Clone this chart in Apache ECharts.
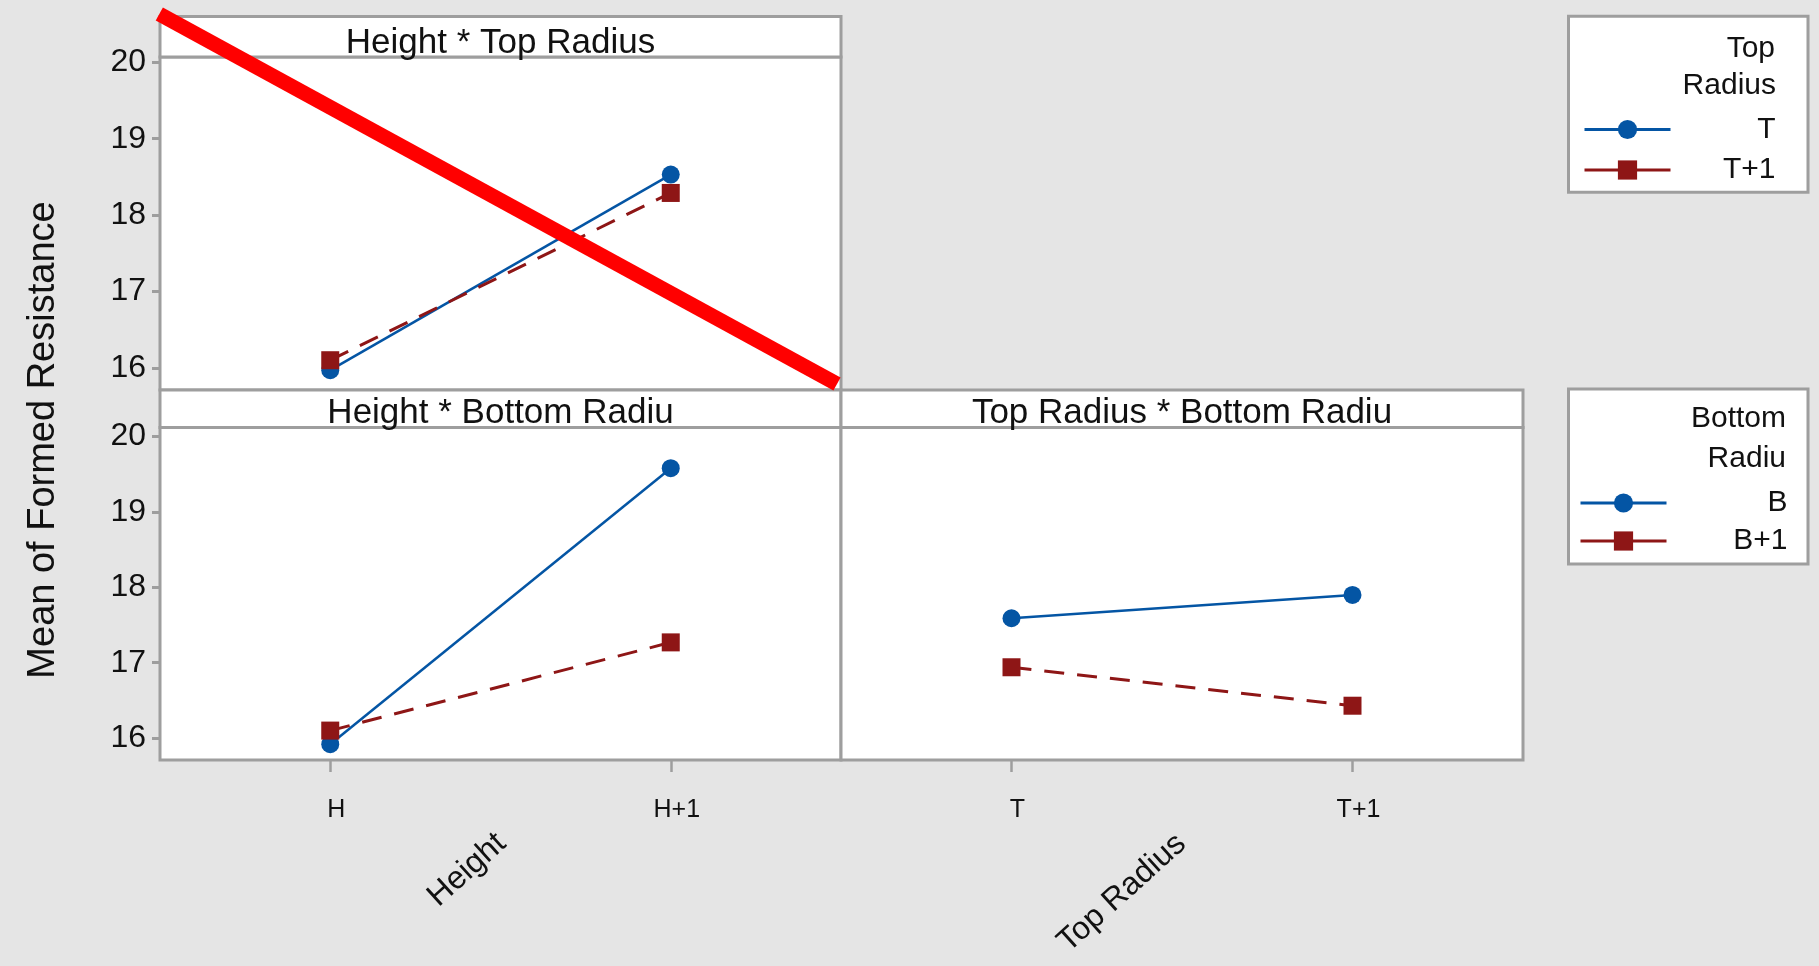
<!DOCTYPE html>
<html>
<head>
<meta charset="utf-8">
<title>Interaction Plot for Formed Resistance</title>
<script src="https://cdn.jsdelivr.net/npm/echarts@6/dist/echarts.min.js"></script>
<style>
  html, body { margin: 0; padding: 0; background: #e5e5e5; }
  #chart { width: 1819px; height: 966px; }
</style>
</head>
<body>
<div id="chart"></div>
<script>
// factor levels
const heightLevels = ['H', 'H+1'];
const topLevels = ['T', 'T+1'];
const bottomLevels = ['B', 'B+1'];
const yTicks = [16, 17, 18, 19, 20];

// means
const heightTopT = [15.97, 18.53];
const heightTopT1 = [16.10, 18.29];
const heightBottomB = [15.92, 19.58];
const heightBottomB1 = [16.10, 17.27];
const topBottomB = [17.59, 17.90];
const topBottomB1 = [16.94, 16.43];

const FONT = "'Liberation Sans', Arial, sans-serif";
const GRAY = '#9e9e9e';
const BLUE = '#0455a4';
const RED = '#8e1616';
const INK = '#111';

const chart = echarts.init(document.getElementById('chart'));

function makeX(gridIndex, data, show) {
  return {
    type: 'category', gridIndex, data, boundaryGap: true,
    axisLine: {show: false},
    axisTick: {show: show, alignWithLabel: true, length: 12, lineStyle: {color: GRAY, width: 2.5}},
    axisLabel: {show: show, margin: 38, padding: [0, 0, 0, 12], fontSize: 25, color: INK, fontFamily: FONT},
    splitLine: {show: false}
  };
}

function makeY(gridIndex, max, show) {
  return {
    type: 'value', gridIndex, min: 15.71, max: max,
    axisLine: {show: false},
    axisTick: {show: show, customValues: yTicks, length: 8, lineStyle: {color: GRAY, width: 3}},
    axisLabel: {show: show, customValues: yTicks, margin: 14, fontSize: 32, color: INK, fontFamily: FONT},
    splitLine: {show: false}
  };
}

function blueLine(name, xi, data) {
  return {
    name, type: 'line', xAxisIndex: xi, yAxisIndex: xi, data,
    symbol: 'circle', symbolSize: 18, color: BLUE,
    lineStyle: {width: 2.5, color: BLUE}
  };
}

function redLine(name, xi, data) {
  return {
    name, type: 'line', xAxisIndex: xi, yAxisIndex: xi, data,
    symbol: 'rect', symbolSize: 18, color: RED,
    lineStyle: {width: 3, color: RED, type: [20, 13]}
  };
}

function legendAt(data, left, top, gap, textWidth) {
  return {
    data, orient: 'vertical', left, top, padding: 0,
    itemWidth: 86, itemHeight: 24, itemGap: gap,
    selectedMode: false,
    lineStyle: {width: 3, type: 'solid'},
    formatter: '{n|{name}}',
    textStyle: {
      rich: {n: {width: textWidth, align: 'right', fontSize: 30, lineHeight: 30, fontFamily: FONT, color: INK}}
    }
  };
}

function text(str, x, y, size, opts) {
  return Object.assign({
    type: 'text', x, y, z: 10,
    style: {text: str, font: size + 'px ' + FONT, fill: INK, align: 'center', verticalAlign: 'middle'}
  }, opts || {});
}

function rightText(str, x, y) {
  return {
    type: 'text', x, y, z: 10,
    style: {text: str, font: '30px ' + FONT, fill: INK, align: 'right', verticalAlign: 'middle'}
  };
}

function box(x, y, w, h) {
  return {
    type: 'rect', z: 1,
    shape: {x, y, width: w, height: h},
    style: {fill: '#fff', stroke: GRAY, lineWidth: 3}
  };
}

const gridStyle = {show: true, backgroundColor: '#fff', borderColor: GRAY, borderWidth: 3};

chart.setOption({
  animation: false,
  backgroundColor: '#e5e5e5',
  grid: [
    Object.assign({left: 160, top: 57, width: 681, height: 333}, gridStyle),
    Object.assign({left: 160, top: 427.5, width: 681, height: 332.5}, gridStyle),
    Object.assign({left: 841, top: 427.5, width: 682, height: 332.5}, gridStyle)
  ],
  xAxis: [
    makeX(0, heightLevels, false),
    makeX(1, heightLevels, true),
    makeX(2, topLevels, true)
  ],
  yAxis: [
    makeY(0, 20.07, true),
    makeY(1, 20.12, true),
    makeY(2, 20.12, false)
  ],
  legend: [
    legendAt(topLevels, 1583, 114.5, 10.5, 100),
    legendAt(bottomLevels, 1579, 488, 8, 116)
  ],
  series: [
    blueLine('T', 0, heightTopT),
    redLine('T+1', 0, heightTopT1),
    blueLine('B', 1, heightBottomB),
    redLine('B+1', 1, heightBottomB1),
    blueLine('B', 2, topBottomB),
    redLine('B+1', 2, topBottomB1)
  ],
  graphic: [
    // panel headers
    box(160, 16.5, 681, 40.5),
    box(160, 390, 681, 37.5),
    box(841, 390, 682, 37.5),
    text('Height * Top Radius', 500.5, 43.5, 35),
    text('Height * Bottom Radiu', 500.5, 413.5, 35),
    text('Top Radius * Bottom Radiu', 1182, 413.5, 35),
    // legend boxes
    box(1568.5, 16.3, 239.5, 176),
    box(1568.5, 389, 239.5, 175),
    rightText('Top', 1775, 49),
    rightText('Radius', 1776, 86),
    rightText('Bottom', 1786, 419),
    rightText('Radiu', 1786, 459),
    // axis names
    text('Mean of Formed Resistance', 44, 440, 38, {rotation: Math.PI / 2}),
    text('Height', 467, 870, 32, {rotation: 42 * Math.PI / 180}),
    text('Top Radius', 1122, 893, 32, {rotation: 42 * Math.PI / 180}),
    // red strike-through across the first panel
    {
      type: 'line', z: 100,
      shape: {x1: 159.3, y1: 14, x2: 837, y2: 384},
      style: {stroke: '#ff0000', lineWidth: 15, lineCap: 'butt'}
    }
  ]
});
</script>
</body>
</html>
